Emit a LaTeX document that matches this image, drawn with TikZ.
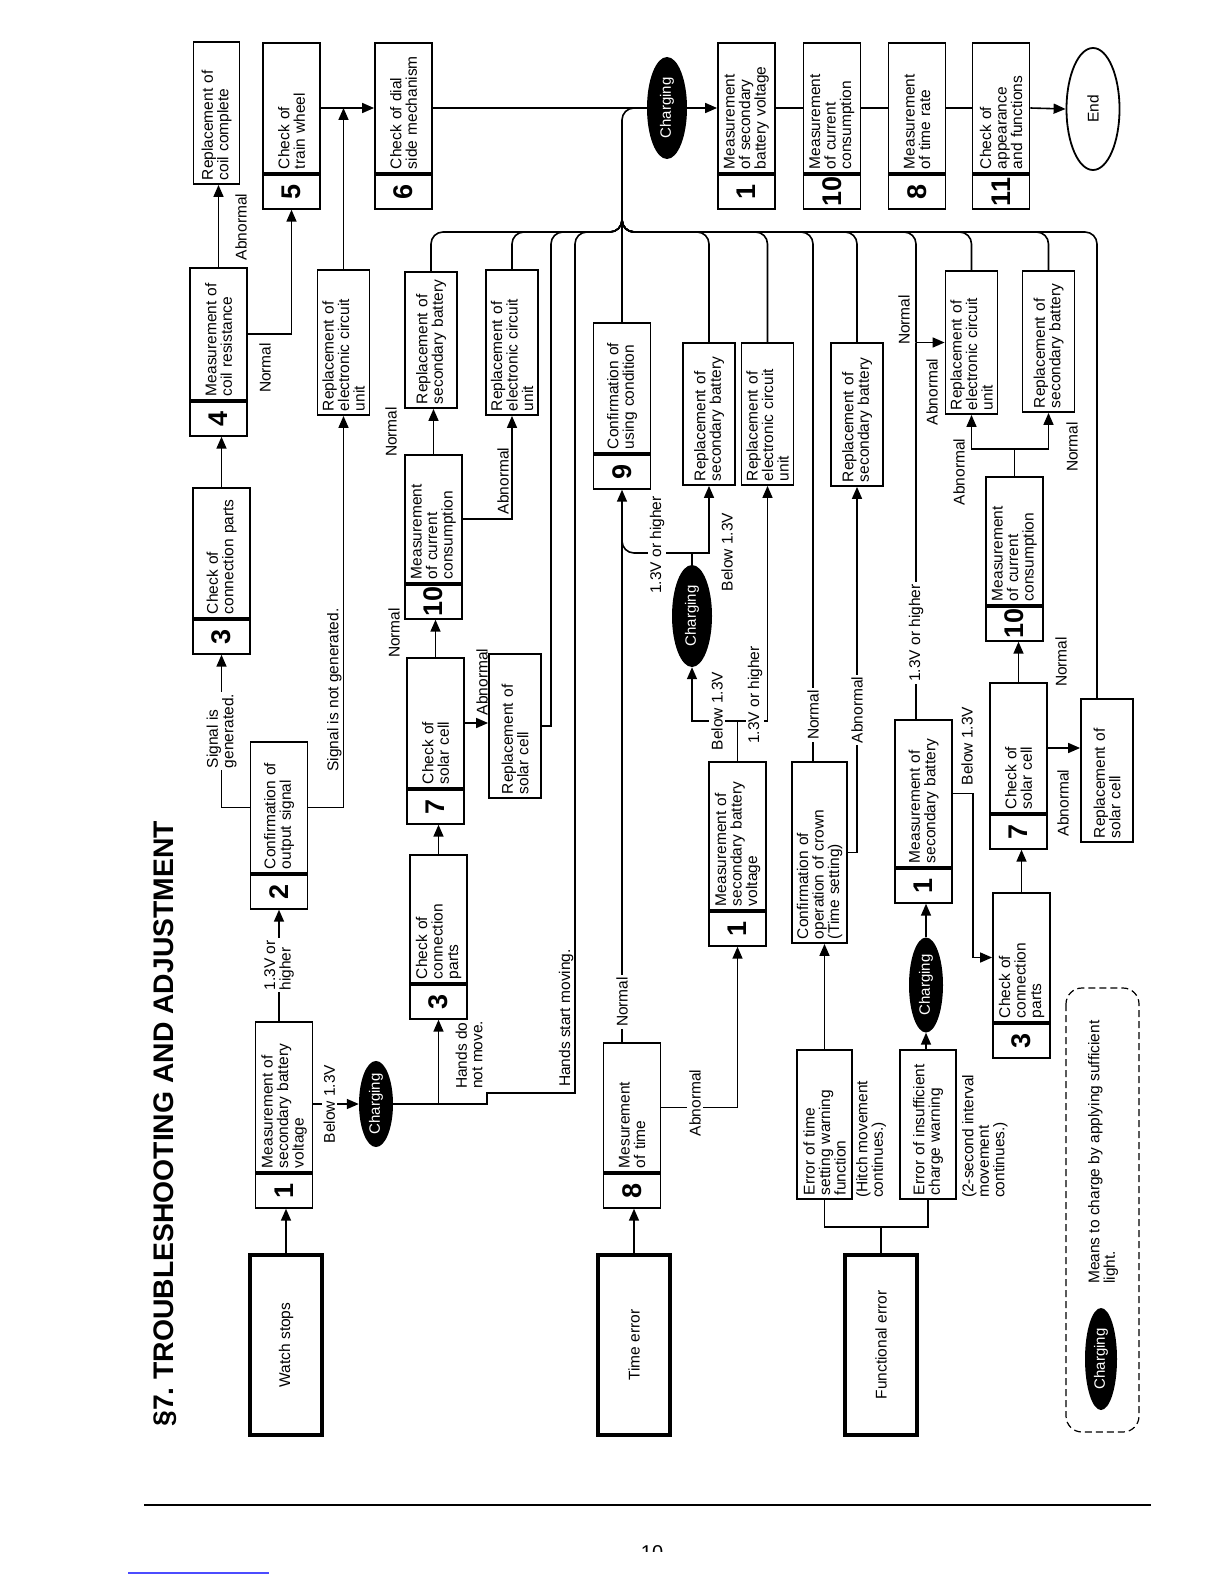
\documentclass[tikz,border=0pt]{standalone}
\usepackage{fontspec}
\setmainfont{Liberation Sans}
\usetikzlibrary{arrows.meta, shapes.geometric}

\tikzset{
  txt/.style={font=\fontsize{15.5}{15.5}\selectfont},
  tpart/.style={draw, line width=1.8pt, rotate=90, txt, align=left,
    minimum height=57pt, inner xsep=4pt, inner ysep=1pt,
    minimum width=#1, text width=#1-8pt},
  npart/.style={draw, line width=1.8pt, rotate=90, anchor=east,
    font=\fontsize{27}{27}\selectfont\bfseries,
    minimum width=34pt, minimum height=57pt, inner sep=0pt},
  rbox/.style={tpart=#1, minimum height=52pt},
  startbox/.style={draw, line width=3.6pt, rotate=90, txt,
    minimum width=180pt, minimum height=72pt},
  charging/.style={ellipse, fill=black, text=white, rotate=90, inner sep=0pt,
    font=\fontsize{15}{15}\selectfont, minimum width=102pt, minimum height=40pt},
  lbl/.style={rotate=90, txt, align=left, inner sep=1pt},
  wlbl/.style={lbl, fill=white, inner sep=2pt},
  con/.style={line width=1.6pt},
  arr/.style={con, -{Triangle[length=12pt, width=10pt]}},
  bus/.style={con, rounded corners=12pt},
}

\begin{document}
\begin{tikzpicture}[x=1pt, y=-1pt]
\useasboundingbox (0,0) rectangle (1224,1584);

% title
\node[rotate=90, anchor=west, font=\fontsize{28.3}{30}\selectfont\bfseries] (title)
  at (165,1430) {§7.\ TROUBLESHOOTING AND ADJUSTMENT};

% starting boxes
\node[startbox] (watch) at (286,1345) {Watch stops};
\node[startbox] (timeerr) at (634,1345) {Time error};
\node[startbox] (func) at (881,1345) {Functional error};

% watch stops branch
\node[rbox=142pt, minimum height=46pt] (rcoil) at (216.5,113) {Replacement of\\coil complete};
\node[tpart=130pt] (b5) at (291.5,108) {Check of\\train wheel};
\node[npart] (n5) at (b5.west) {5};
\node[tpart=130pt] (b6) at (403.5,108) {Check of dial\\side mechanism};
\node[npart] (n6) at (b6.west) {6};
\node[tpart=132pt] (b4) at (218.5,334) {Measurement of\\coil resistance};
\node[npart] (n4) at (b4.west) {4};
\node[rbox=145pt] (rc1) at (343.5,342.5) {Replacement of\\electronic circuit\\unit};
\node[tpart=130pt] (b3a) at (221.5,553) {Check of\\connection parts};
\node[npart] (n3a) at (b3a.west) {3};
\node[tpart=131pt] (b2) at (279,807.5) {Confirmation of\\output signal};
\node[npart] (n2) at (b2.west) {2};
\node[tpart=150pt] (b1a) at (284,1097) {Measurement of\\secondary battery\\voltage};
\node[npart] (n1a) at (b1a.west) {1};
\node[charging, minimum width=82pt, minimum height=34pt] (chgL) at (376,1104) {Charging};

\node[tpart=128pt] (b3b) at (438.5,919) {Check of\\connection\\parts};
\node[npart] (n3b) at (b3b.west) {3};
\node[tpart=130pt] (b7a) at (435.5,723) {Check of\\solar cell};
\node[npart] (n7a) at (b7a.west) {7};
\node[tpart=128pt] (b10a) at (433.5,519) {Measurement\\of current\\consumption};
\node[npart] (n10a) at (b10a.west) {10};
\node[rbox=136pt] (rb1) at (431,340) {Replacement of\\secondary battery};
\node[rbox=145pt] (rc2) at (512,342.5) {Replacement of\\electronic circuit\\unit};
\node[rbox=144pt] (rs1) at (515,726) {Replacement of\\solar cell};

% time error branch
\node[tpart=129pt] (b8) at (632,1107.5) {Mesurement\\of time};
\node[npart] (n8) at (b8.west) {8};
\node[tpart=130pt] (b9) at (622,388) {Confirmation of\\using condition};
\node[npart] (n9) at (b9.west) {9};
\node[charging] (chgM) at (692,616) {Charging};
\node[rbox=142pt] (rb2) at (709,414) {Replacement of\\secondary battery};
\node[rbox=142pt] (rc3) at (767.5,414) {Replacement of\\electronic circuit\\unit};
\node[tpart=148pt] (b1b) at (737.5,836) {Measurement of\\secondary battery\\voltage};
\node[npart] (n1b) at (b1b.west) {1};

% functional error branch
\node[rbox=181pt, minimum height=55pt] (crown) at (819.5,852.5) {Confirmation of\\operation of crown\\(Time setting)};
\node[rbox=149pt, minimum height=55pt] (et) at (824.5,1124.5) {Error of time\\setting warning\\function};
\node[rbox=149pt, minimum height=56pt] (ec) at (928,1124.5) {Error of insufficient\\charge warning};
\node[lbl, anchor=north west] (etnote) at (855,1199) {(Hitch movement\\continues.)};
\node[lbl, anchor=north west] (ecnote) at (961,1199) {(2-second interval\\movement\\continues.)};
\node[charging, minimum width=95pt, minimum height=34pt] (chgB) at (926,985) {Charging};
\node[tpart=147pt] (b1c) at (923.5,793.5) {Measurement of\\secondary battery};
\node[npart] (n1c) at (b1c.west) {1};
\node[rbox=143pt] (rb3) at (857,414.5) {Replacement of\\secondary battery};
\node[tpart=129pt] (b3c) at (1021.5,957.5) {Check of\\connection\\parts};
\node[npart] (n3c) at (b3c.west) {3};
\node[tpart=130pt] (b7b) at (1018.5,748) {Check of\\solar cell};
\node[npart] (n7b) at (b7b.west) {7};
\node[tpart=128pt] (b10b) at (1014.5,541) {Measurement\\of current\\consumption};
\node[npart] (n10b) at (b10b.west) {10};
\node[rbox=143pt] (rc4) at (971.5,342.5) {Replacement of\\electronic circuit\\unit};
\node[rbox=141pt] (rb4) at (1048.5,341.5) {Replacement of\\secondary battery};
\node[rbox=143pt] (rs2) at (1107,770.5) {Replacement of\\solar cell};

% final checks
\node[charging] (chgT) at (667,108) {Charging};
\node[tpart=130pt] (b1f) at (746.5,108) {Measurement\\of secondary\\battery voltage};
\node[npart] (n1f) at (b1f.west) {1};
\node[tpart=130pt] (b10f) at (832,108) {Measurement\\of current\\consumption};
\node[npart] (n10f) at (b10f.west) {10};
\node[tpart=130pt] (b8f) at (917,108) {Measurement\\of time rate};
\node[npart] (n8f) at (b8f.west) {8};
\node[tpart=130pt] (b11f) at (1001,108) {Check of\\appearance\\and functions};
\node[npart] (n11f) at (b11f.west) {11};
\node[ellipse, draw, line width=1.8pt, rotate=90, txt, minimum width=122pt, minimum height=53pt] (endn) at (1093,109) {End};

% connectors, watch stops
\draw[arr] (watch.east) -- (watch.east |- n1a.west);
\draw[arr] (b1a.east -| n2.west) -- node[wlbl] (l13a) {1.3V or\\higher} (n2.west);
\draw[arr] (b2.north) -| node[wlbl, pos=0.75] (lsig) {Signal is\\generated.} (n3a.west);
\draw[arr] (b2.south) -| node[lbl, pos=0.65, anchor=south] (lnosig) {Signal is not generated.} (rc1.west);
\draw[arr] (rc1.east) -- (rc1.east |- b5.south);
\draw[arr] (b3a.east) -- (b3a.east |- n4.west);
\draw[arr] (b4.east) -- (b4.east |- rcoil.west);
\draw[arr] (b4.south) -| (n5.west);
\draw[arr] (b5.south) -- (b6.north);
\draw[con] (b6.south) -- (chgT.north);
\draw[arr] (chgT.south) -- (b1f.north);
\draw[con] (b1f.south) -- (b10f.north);
\draw[con] (b10f.south) -- (b8f.north);
\draw[con] (b8f.south) -- (b11f.north);
\draw[arr] (b11f.south) -- (endn.north);
\node[lbl] (labn4) at (241,227) {Abnormal};
\node[lbl] (lnor4) at (265,368) {Normal};

\draw[arr] (b1a.south |- chgL.north) -- node[wlbl, pos=0.35] (lbel1) {Below 1.3V} (chgL.north);
\coordinate (hA) at (487,1104);
\coordinate (hB) at (487,1093);
\coordinate (hC) at (575,1093);
\coordinate (hD) at (575,300);
\draw[con] (chgL.south) -- (hA) -- (hB) -- (hC) -- (hD);
\draw[arr] (chgL.south -| n3b.west) -- (n3b.west);
\node[lbl, anchor=west] (lhdnm) at (469,1090) {Hands do\\not move.};
\node[lbl] (lhsm) at (566,1018) {Hands start moving.};

\draw[arr] (b3b.east) -- (b3b.east |- n7a.west);
\draw[arr] (b7a.east) -- (b7a.east |- n10a.west);
\draw[arr] (b10a.east) -- (b10a.east |- rb1.west);
\draw[arr] (b10a.south) -| (rc2.west);
\draw[arr] (b7a.south) -- (b7a.south -| rs1.north);
\coordinate (sA) at (551,300);
\draw[con] (rs1.south) -| (sA);
\node[lbl] (lnor7a) at (394,633) {Normal};
\node[lbl] (lnor10a) at (391,432) {Normal};
\node[lbl] (labn10a) at (503,481) {Abnormal};
\node[lbl] (labn7a) at (482,682) {Abnormal};

% connectors, time error
\draw[arr] (timeerr.east) -- (timeerr.east |- n8.west);
\draw[arr] (b8.east -| n9.west) -- (n9.west);
\coordinate (mJ) at (692,553);
\draw[con] (chgM.east) -- (mJ);
\draw[arr] (mJ) -| (rb2.west);
\draw[bus] (mJ) -- (mJ -| n9.west) -- ++(0,-30);
\coordinate (bJ) at (737.5,721);
\draw[con] (b1b.east) -- (bJ);
\draw[arr] (bJ) -| (chgM.west);
\draw[arr] (bJ) -| (rc3.west);
\draw[arr] (b8.south) -| (n1b.west);
\node[wlbl] (lnor8) at (622,1002) {Normal};
\node[wlbl] (lhi9) at (657,545) {1.3V or higher};
\node[lbl] (lbel9) at (727,552) {Below 1.3V};
\node[wlbl] (lbel1b) at (717,711) {Below 1.3V};
\node[wlbl] (lhi1b) at (755,695) {1.3V or higher};
\node[wlbl] (labn8) at (695,1103) {Abnormal};

% connectors, functional error
\coordinate (fk) at (881,1227);
\draw[con] (func.east) -- (fk);
\draw[con] (et.west) |- (fk) -| (ec.west);
\draw[arr] (et.east) -- (et.east |- crown.west);
\draw[arr] (ec.east -| chgB.west) -- (chgB.west);
\draw[arr] (chgB.east) -- (chgB.east |- n1c.west);
\coordinate (nA) at (813,300);
\draw[con] (crown.east -| nA) -- (nA);
\draw[arr] (crown.south) -| (rb3.west);
\coordinate (vA) at (916,342.5);
\draw[con] (b1c.east -| vA) -- (vA);
\draw[arr] (vA) -- (rc4.north);
\coordinate (cJ) at (973,870);
\draw[arr] (b1c.south) -| (cJ) |- (b3c.north);
\draw[arr] (b3c.east) -- (b3c.east |- n7b.west);
\draw[arr] (b7b.east) -- (b7b.east |- n10b.west);
\draw[arr] (b7b.south) -- (b7b.south -| rs2.north);
\coordinate (jS) at (1014.5,449);
\draw[con] (b10b.east) -- (jS);
\draw[arr] (jS) -| (rc4.west);
\draw[arr] (jS) -| (rb4.west);
\node[wlbl] (lnorcr) at (813,715) {Normal};
\node[wlbl] (labncr) at (857,710) {Abnormal};
\node[wlbl] (lhi1c) at (916,633) {1.3V or higher};
\node[lbl] (lnor1c) at (904,320) {Normal};
\node[lbl] (labn1c) at (932,392) {Abnormal};
\node[lbl] (lbel1c) at (967,746) {Below 1.3V};
\node[lbl] (lnor7b) at (1061,662) {Normal};
\node[lbl] (labn7b) at (1063,803) {Abnormal};
\node[lbl] (labn10b) at (959,472) {Abnormal};
\node[lbl] (lnor10b) at (1072,447) {Normal};

% common return line
\coordinate (busC) at (622,232);
\coordinate (busU) at (622,190);
\path (rs2.east) ++(-10,0) coordinate (rT);
\foreach \b in {rb1,rc2,rb2,rc3,rb3,rc4,rb4}
  \draw[bus] (\b.east) |- (busC) -- (busU);
\foreach \c in {sA,hD,nA,vA,rT}
  \draw[bus] (\c) |- (busC) -- (busU);
\draw[bus] (b9.east) |- (chgT.north);

% legend
\draw[line width=1.2pt, dash pattern=on 7pt off 4pt, rounded corners=16pt] (1066,988) rectangle (1139,1432);
\node[charging, minimum height=32pt] (chgK) at (1101,1359) {Charging};
\node[lbl, anchor=west] (legtxt) at (1103,1285) {Means to charge by applying sufficient\\light.};

% page foot
\draw[line width=2pt] (144,1505) -- (1151,1505);
\begin{scope}
  \clip (600,1530) rectangle (700,1551);
  \node[font=\fontsize{20}{20}\selectfont] (pgno) at (652,1553) {10};
\end{scope}
\draw[blue!70, line width=1.2pt] (128,1573) -- (269,1573);
\end{tikzpicture}
\end{document}
